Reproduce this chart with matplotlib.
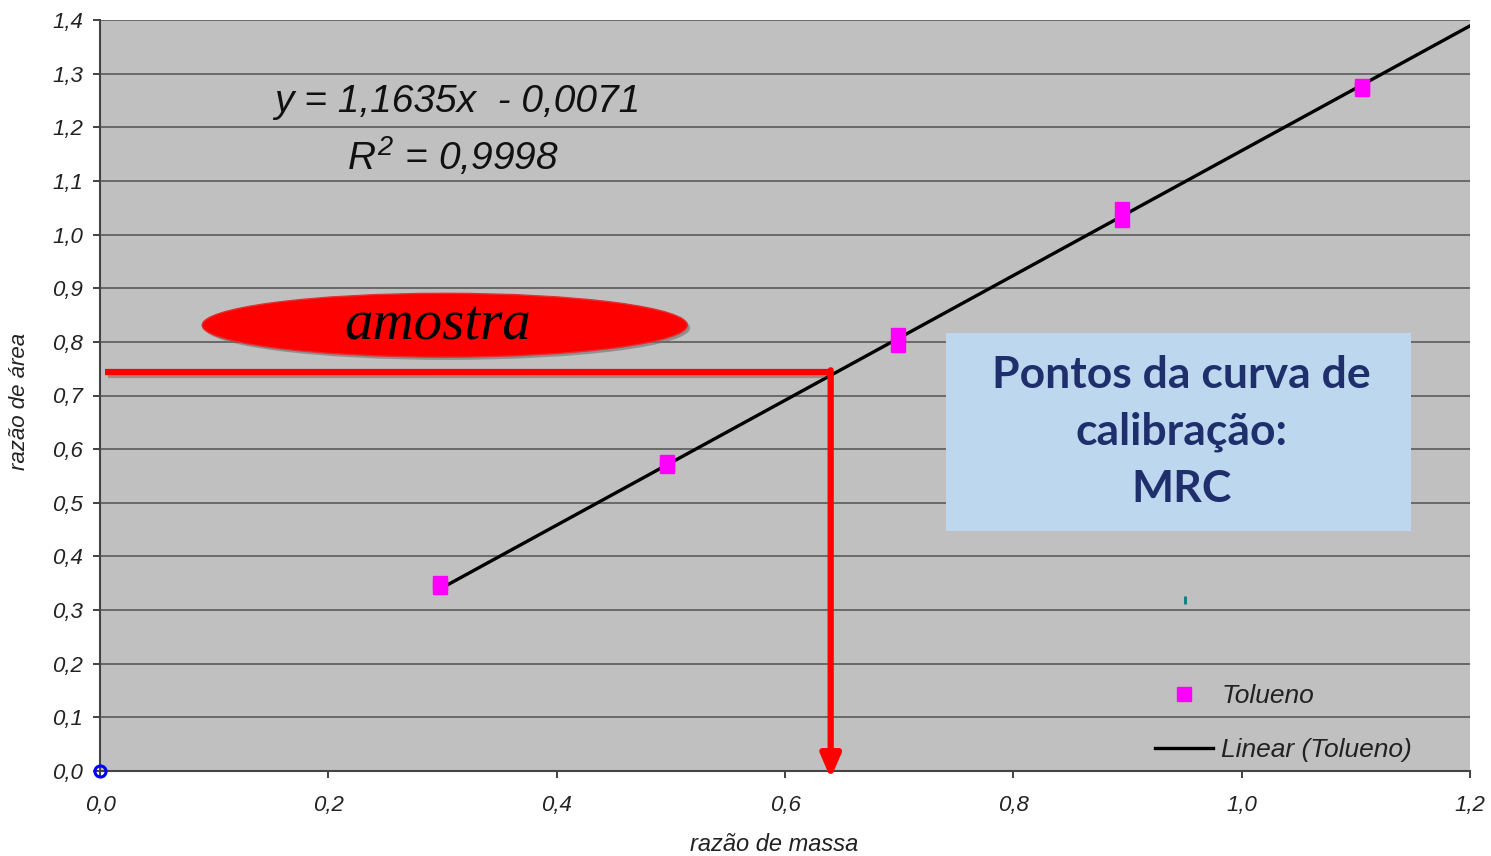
import matplotlib
matplotlib.use("Agg")
import matplotlib.pyplot as plt
import matplotlib.patches as mpatches
import matplotlib.patheffects as pe
import numpy as np

plt.rcParams['font.family'] = ['Liberation Sans', 'DejaVu Sans']
plt.rcParams['mathtext.fontset'] = 'custom'
plt.rcParams['mathtext.it'] = 'Liberation Sans:italic'
plt.rcParams['mathtext.rm'] = 'Liberation Sans:italic'

# ---- data ----
x_mass = [0.298, 0.298, 0.497, 0.497, 0.699, 0.699, 0.895, 0.895, 1.105, 1.105]
y_area = [0.351, 0.343, 0.576, 0.569, 0.813, 0.794, 1.048, 1.027, 1.277, 1.271]
slope = 1.1635
intercept = -0.0071
fit_x = [0.3, 1.2]
sample_y = 0.743
sample_x = 0.64
x_ticks = [0.0, 0.2, 0.4, 0.6, 0.8, 1.0, 1.2]
y_ticks = [0.0, 0.1, 0.2, 0.3, 0.4, 0.5, 0.6, 0.7, 0.8, 0.9, 1.0, 1.1, 1.2, 1.3, 1.4]

def fmt(v):
    return f"{v:.1f}".replace('.', ',')

fig = plt.figure(figsize=(14.91, 8.56), dpi=100)
ax = fig.add_axes([100/1491, 85/856, 1370/1491, 751/856])
ax.set_facecolor('#C0C0C0')
ax.set_xlim(0, 1.2)
ax.set_ylim(0, 1.4)

ax.set_xticks(x_ticks)
ax.set_xticklabels([fmt(v) for v in x_ticks], style='italic', fontsize=16)
ax.set_yticks(y_ticks)
ax.set_yticklabels([fmt(v) for v in y_ticks], style='italic', fontsize=16)
ax.tick_params(axis='x', direction='out', length=5, width=1.2, pad=12, colors='#222222')
ax.tick_params(axis='y', direction='out', length=5, width=1.2, pad=7, colors='#222222')
for lab in ax.get_xticklabels() + ax.get_yticklabels():
    lab.set_color('#222222')

ax.grid(axis='y', color='#5a5a5a', lw=1.2, zorder=1)
ax.set_axisbelow(True)
ax.spines['top'].set_visible(False)
ax.spines['right'].set_visible(False)
ax.spines['left'].set_color('#444444')
ax.spines['left'].set_linewidth(1.5)
ax.spines['bottom'].set_color('#444444')
ax.spines['bottom'].set_linewidth(1.5)

ax.set_xlabel('razão de massa', style='italic', fontsize=17, color='#222222')
ax.set_ylabel('razão de área', style='italic', fontsize=16, color='#222222')
ax.xaxis.set_label_coords((774 - 100) / 1370, -(833 - 771) / 751)
ax.yaxis.set_label_coords(-(100 - 30) / 1370, (771 - 401) / 751)

# fitted line
fx = np.array(fit_x)
ax.plot(fx, slope * fx + intercept, color='black', lw=2.4, zorder=4, label='Linear (Tolueno)')
# data points
ax.plot(x_mass, y_area, ls='none', marker='s', ms=9.5, mfc='#FF00FF', mec='#FF00FF',
        zorder=5, label='Tolueno')

# origin marker
ax.plot([0], [0], marker='o', ms=8, mfc='none', mec='#0000FF', mew=2.2, clip_on=False, zorder=6)
ax.plot([0.950], [0.319], marker='|', ms=6, mec='#008080', mew=2, zorder=3)

# equation text
ax.text(0.313, 1.247, 'y = 1,1635x  - 0,0071', style='italic', fontsize=28,
        ha='center', va='center', color='#111111', zorder=6)
ax.text(0.309, 1.145, '$R^2$ = 0,9998', style='italic', fontsize=28,
        ha='center', va='center', color='#111111', zorder=6)

# amostra ellipse
ell = mpatches.Ellipse((0.302, 0.831), 0.425, 0.119, facecolor='#FF0000', edgecolor='#E03030',
                       lw=1, zorder=6,
                       path_effects=[pe.SimplePatchShadow(offset=(2, -2), shadow_rgbFace='#707070', alpha=0.6), pe.Normal()])
ax.add_patch(ell)
ax.text(0.296, 0.830, 'amostra', family='Liberation Serif', style='italic', fontsize=41,
        ha='center', va='center', color='black', zorder=7)

# red lines
shadow = [pe.SimpleLineShadow(offset=(2, -2), shadow_color='#803030', alpha=0.4), pe.Normal()]
ax.plot([0.0044, sample_x], [sample_y, sample_y], color='#FF0000', lw=4.5, zorder=6,
        solid_capstyle='butt', path_effects=shadow)
ax.annotate('', xy=(sample_x, -0.014), xytext=(sample_x, sample_y + 0.004),
            arrowprops=dict(arrowstyle='-|>,head_width=0.6,head_length=1.4', color='#FF0000',
                            lw=4.5, shrinkA=0, shrinkB=0),
            annotation_clip=False, zorder=6)

# blue box
rect = mpatches.Rectangle((0.741, 0.447), 0.407, 0.370, facecolor='#BDD7EE', edgecolor='none', zorder=6)
ax.add_patch(rect)
ax.text(0.947, 0.632, 'Pontos da curva de\ncalibração:\nMRC', family='Lato', weight='bold',
        fontsize=32, ha='center', va='center', color='#1F2F6B', linespacing=1.5, zorder=7)

handles, labels = ax.get_legend_handles_labels()
leg = ax.legend(handles[::-1], labels[::-1], loc='lower right', bbox_to_anchor=(0.975, -0.02),
                frameon=False, prop={'style': 'italic', 'size': 19}, labelspacing=1.15,
                handlelength=2.2, handletextpad=0.3)
for t in leg.get_texts():
    t.set_color('#222222')

fig.savefig('out.png', dpi=100)
